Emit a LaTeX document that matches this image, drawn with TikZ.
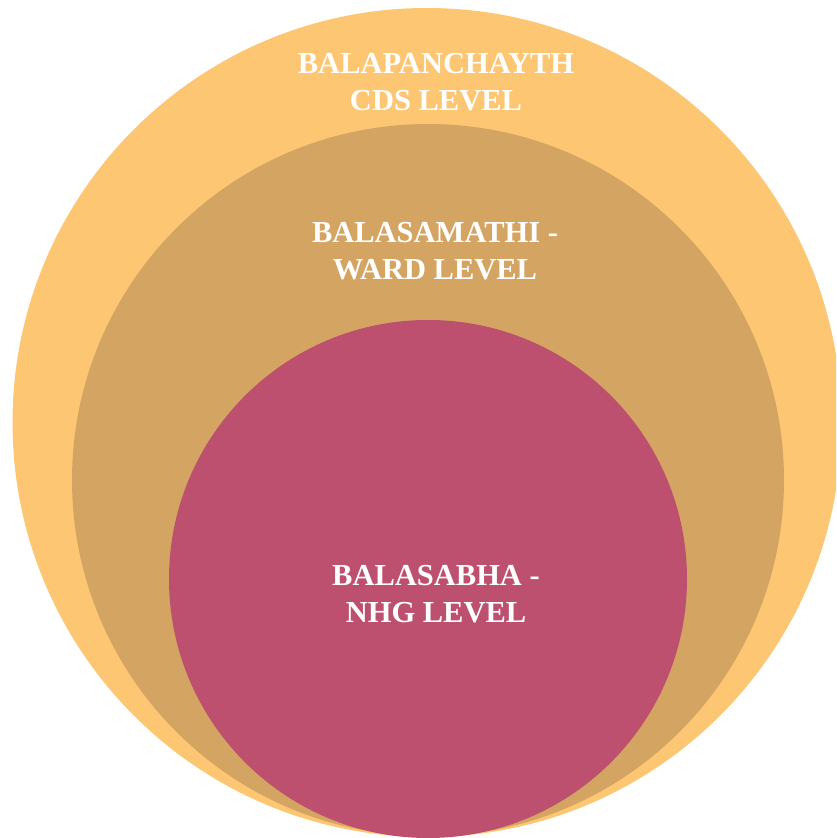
\documentclass[tikz,border=0pt]{standalone}
\usepackage{fontspec}
\setmainfont{Liberation Serif}
\definecolor{outerc}{HTML}{FDC672}
\definecolor{midc}{HTML}{D4A463}
\definecolor{innerc}{HTML}{BC506E}
\begin{document}
\begin{tikzpicture}[x=1pt,y=-1pt,
  lvl/.style={circle,inner sep=0pt,draw=none},
  lbl/.style={text=white,align=center,font=\fontsize{30.5}{37}\selectfont\bfseries}]
\useasboundingbox (0,0) rectangle (836,838);
\clip (0,0) rectangle (836,838);
\node[lvl,fill=outerc,minimum size=829pt] (outer) at (427,422.5) {};
\node[lvl,fill=midc,minimum size=712pt] (mid) at (428,480) {};
\node[lvl,fill=innerc,minimum size=518pt] (inner) at (428,579) {};
\node[lbl] (t1) at (436,82) {BALAPANCHAYTH\\CDS LEVEL};
\node[lbl] (t2) at (435,251) {BALASAMATHI -\\WARD LEVEL};
\node[lbl] (t3) at (436,594) {BALASABHA -\\NHG LEVEL};
\end{tikzpicture}
\end{document}
